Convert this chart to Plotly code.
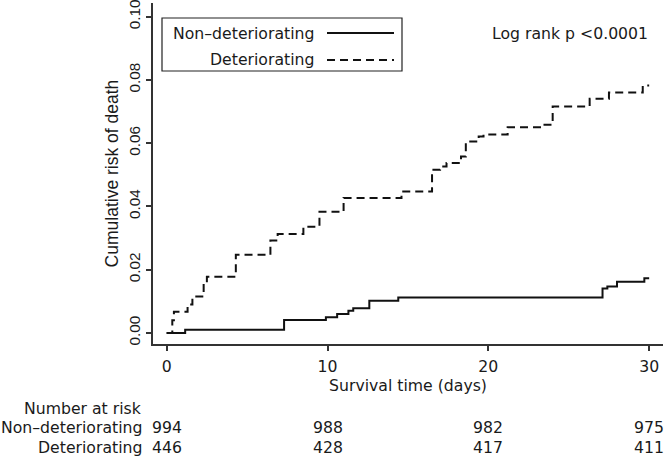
import plotly.graph_objects as go

# ---- data ----
nondet_days = [0, 1.15, 7.3, 9.9, 10.6, 11.3, 11.6, 12.6, 14.4, 27.1, 27.4, 28.0, 29.7, 30.0]
nondet_risk = [0, 0.001, 0.0041, 0.005, 0.006, 0.007, 0.0078, 0.0102, 0.0112, 0.0141, 0.0147, 0.0162, 0.0173, 0.0173]

det_days = [0, 0.35, 0.45, 1.3, 1.6, 2.3, 2.5, 4.3, 6.45, 6.9, 8.5, 9.5, 11.0, 14.6, 16.5, 17.0,
            17.4, 18.3, 18.6, 19.4, 19.7, 21.2, 23.3, 24.0, 26.3, 27.5, 29.6, 30.0]
det_risk = [0, 0.004, 0.0067, 0.009, 0.0115, 0.0155, 0.0178, 0.0247, 0.0292, 0.0313, 0.0336, 0.0383,
            0.0427, 0.0447, 0.0516, 0.0526, 0.0537, 0.0558, 0.0605, 0.0621, 0.0627, 0.065, 0.0658,
            0.0716, 0.074, 0.076, 0.0782, 0.0782]

x_ticks = [0, 10, 20, 30]
y_ticks = [0.0, 0.02, 0.04, 0.06, 0.08, 0.10]
y_tick_labels = ["0.00", "0.02", "0.04", "0.06", "0.08", "0.10"]

risk_times = [0, 10, 20, 30]
risk_nondet = [994, 988, 982, 975]
risk_det = [446, 428, 417, 411]

group_names = ["Non\u2013deteriorating", "Deteriorating"]

# ---- geometry ----
W, H = 666, 459
L, R, T, B = 153, 3, 3, 115
pw, ph = W - L - R, H - T - B


def sx(x):
    """pixel x -> paper x"""
    return (x - L) / pw


def sy(y):
    """pixel y -> paper y"""
    return (T + ph - y) / ph


FONT = "DejaVu Sans"
YFONT = "Liberation Sans"
TXT = "#1a1a1a"
FS = 15.7
DASH = "8px,5px"

fig = go.Figure()
fig.add_trace(go.Scatter(x=nondet_days, y=nondet_risk, mode="lines", line_shape="hv",
                         line=dict(color="#111", width=2), name=group_names[0], showlegend=False))
fig.add_trace(go.Scatter(x=det_days, y=det_risk, mode="lines", line_shape="hv",
                         line=dict(color="#111", width=2, dash=DASH), name=group_names[1],
                         showlegend=False))

ann = []
shapes = []
# legend box
shapes.append(dict(type="rect", xref="paper", yref="paper", x0=sx(162), x1=sx(402), y0=sy(71), y1=sy(18),
                   line=dict(color="#222", width=1.2), fillcolor="white", layer="above"))
for i, (name, yy) in enumerate(zip(group_names, [33, 60])):
    ann.append(dict(text=name, xref="paper", yref="paper", x=sx(316), y=sy(yy), xanchor="right",
                    yanchor="middle", showarrow=False, font=dict(size=FS, color=TXT, family=FONT)))
    shapes.append(dict(type="line", xref="paper", yref="paper", x0=sx(327), x1=sx(394), y0=sy(yy), y1=sy(yy),
                       line=dict(color="#111", width=2, dash="solid" if i == 0 else DASH)))

ann.append(dict(text="Log rank p <0.0001", xref="paper", yref="paper", x=sx(650), y=sy(33), xanchor="right",
                yanchor="middle", showarrow=False, font=dict(size=FS, color=TXT, family=FONT)))

# number at risk table
ann.append(dict(text="Number at risk", xref="paper", yref="paper", x=sx(144), y=sy(408), xanchor="right",
                yanchor="middle", showarrow=False, font=dict(size=FS, color=TXT, family=FONT)))
for name, vals, yy in [(group_names[0], risk_nondet, 427), (group_names[1], risk_det, 447)]:
    ann.append(dict(text=name, xref="paper", yref="paper", x=sx(144), y=sy(yy), xanchor="right",
                    yanchor="middle", showarrow=False, font=dict(size=FS, color=TXT, family=FONT)))
    for t, v in zip(risk_times, vals):
        ann.append(dict(text=str(v), xref="x", yref="paper", x=t, y=sy(yy), xanchor="center",
                        yanchor="middle", showarrow=False, font=dict(size=FS, color=TXT, family=FONT)))

fig.update_layout(
    width=W, height=H, margin=dict(l=L, r=R, t=T, b=B, autoexpand=False),
    paper_bgcolor="white", plot_bgcolor="white",
    font=dict(family=FONT, size=FS, color=TXT),
    annotations=ann, shapes=shapes, showlegend=False,
    xaxis=dict(range=[-0.85, 30.86], tickvals=x_ticks, ticks="outside", ticklen=5, tickwidth=1.5,
               tickcolor="#333", showline=True, linecolor="#333", linewidth=2, showgrid=False,
               zeroline=False, ticklabelstandoff=2,
               title=dict(text="Survival time (days)", standoff=5,
                          font=dict(size=FS, family=FONT, color=TXT)),
               tickfont=dict(size=FS, family=FONT, color=TXT)),
    yaxis=dict(range=[-0.00348, 0.1043], tickvals=y_ticks, ticktext=y_tick_labels, tickangle=-90,
               ticks="outside", ticklen=5, tickwidth=1.5, tickcolor="#333", showline=True,
               linecolor="#333", linewidth=2, showgrid=False, zeroline=False,
               ticklabeloverflow="allow",
               title=dict(text="Cumulative risk of death", standoff=3,
                          font=dict(size=17.5, family=YFONT, color=TXT)),
               tickfont=dict(size=15.3, family=YFONT, color=TXT)),
)

fig.write_html("out.html", config={"displayModeBar": False},
               post_script="document.body.style.margin='0';document.body.style.padding='0';")
